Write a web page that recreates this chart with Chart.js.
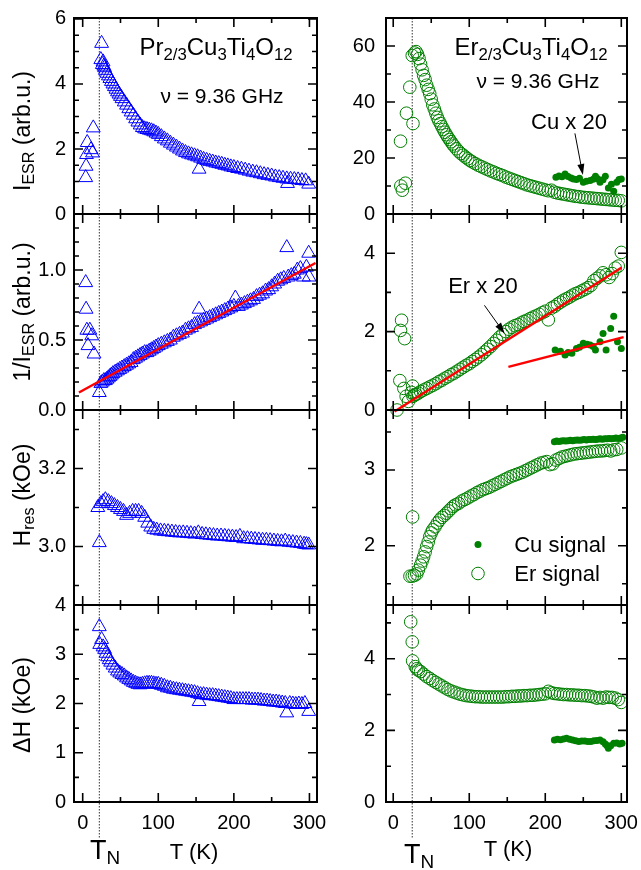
<!DOCTYPE html>
<html>
<head>
<meta charset="utf-8">
<script src="https://cdn.jsdelivr.net/npm/chart.js@4.4.1/dist/chart.umd.min.js"></script>
<style>
  body { margin: 0; background: #fff; }
  #fig { position: relative; width: 641px; height: 870px; overflow: hidden;
         font-family: "Liberation Sans", Arial, sans-serif; color: #000; }
  canvas { position: absolute; }
  .t { position: absolute; white-space: nowrap; line-height: 1; transform: translate(-50%, -50%); }
  .rot { font-size: 23px; transform: translate(-50%, -50%) rotate(-90deg); }
  .big { font-size: 24px; }
  .mid { font-size: 21px; }
  .lab { font-size: 22px; }
  sub { font-size: 70%; vertical-align: -0.3em; line-height: 0; }
</style>
</head>
<body>
<div id="fig">
  <div class="t rot" style="left:22px;top:131px">I<sub>ESR</sub> (arb.u.)</div>
  <div class="t rot" style="left:22px;top:312px">1/I<sub>ESR</sub> (arb.u.)</div>
  <div class="t rot" style="left:22px;top:495px">H<sub>res</sub> (kOe)</div>
  <div class="t rot" style="left:22px;top:705px">&Delta;H (kOe)</div>

  <div class="t big" style="left:216px;top:47px">Pr<sub>2/3</sub>Cu<sub>3</sub>Ti<sub>4</sub>O<sub>12</sub></div>
  <div class="t mid" style="left:222px;top:95px">&nu; = 9.36 GHz</div>
  <div class="t big" style="left:531px;top:47px">Er<sub>2/3</sub>Cu<sub>3</sub>Ti<sub>4</sub>O<sub>12</sub></div>
  <div class="t mid" style="left:538px;top:80px">&nu; = 9.36 GHz</div>
  <div class="t lab" style="left:569px;top:122px">Cu x 20</div>
  <div class="t lab" style="left:483px;top:286px">Er x 20</div>
  <div class="t lab" style="left:560px;top:545px">Cu signal</div>
  <div class="t lab" style="left:557px;top:574px">Er signal</div>

  <div class="t" style="left:105px;top:850px;font-size:27px">T<sub>N</sub></div>
  <div class="t lab" style="left:194px;top:852px">T (K)</div>
  <div class="t" style="left:419px;top:854px;font-size:27px">T<sub>N</sub></div>
  <div class="t lab" style="left:508px;top:849px">T (K)</div>
</div>
<script>
// shared temperature axis
const xTicks = [0, 50, 100, 150, 200, 250, 300];
const xTickLabels = ['0', '', '100', '', '200', '', '300'];
const prTN = 22;
const erTN = 25;

// Pr2/3Cu3Ti4O12 : ESR intensity
const prIesrT = [4, 4.5, 5, 6, 11, 13, 14, 24, 25, 26,
  27, 28, 29, 30, 32, 34, 36, 38, 40, 42,
  44, 46, 48, 50, 52, 55, 58, 61, 64, 67,
  70, 73, 76, 79, 82, 85, 88, 91, 94, 97,
  100, 104, 108, 112, 116, 120, 124, 128, 132, 136,
  140, 144, 148, 152, 154, 156, 160, 164, 168, 172,
  176, 180, 184, 188, 192, 196, 200, 205, 210, 215,
  220, 225, 230, 235, 240, 245, 250, 255, 260, 265,
  270, 271, 275, 280, 285, 290, 295, 299];
const prIesr = [1.12, 1.47, 1.83, 2.2, 1.98, 1.88, 2.65, 4.75, 5.25, 4.6,
  4.68, 4.55, 4.5, 4.42, 4.33, 4.25, 4.17, 4.08, 4.0, 3.92,
  3.84, 3.76, 3.69, 3.62, 3.55, 3.45, 3.35, 3.24, 3.14, 3.04,
  2.93, 2.83, 2.74, 2.66, 2.62, 2.6, 2.58, 2.56, 2.53, 2.49,
  2.45, 2.38, 2.31, 2.25, 2.18, 2.12, 2.06, 2.0, 1.94, 1.89,
  1.85, 1.82, 1.79, 1.76, 1.38, 1.72, 1.68, 1.65, 1.62, 1.6,
  1.57, 1.55, 1.53, 1.5, 1.48, 1.45, 1.43, 1.4, 1.38, 1.35,
  1.32, 1.29, 1.27, 1.24, 1.21, 1.19, 1.17, 1.14, 1.12, 1.1,
  1.08, 0.94, 1.07, 1.06, 1.05, 1.03, 1.02, 0.92];

// Pr : inverse intensity and linear fit
const prInvT = [4, 4.5, 5.5, 7, 9.5, 12, 15, 22, 24, 26,
  28, 30, 32, 34, 36, 38, 40, 43, 46, 49,
  52, 55, 58, 61, 64, 67, 70, 73, 76, 79,
  82, 85, 88, 91, 94, 97, 100, 104, 108, 112,
  116, 120, 124, 128, 132, 136, 140, 144, 148, 152,
  154, 156, 160, 164, 168, 172, 176, 180, 184, 188,
  192, 196, 200, 202, 206, 210, 214, 218, 222, 226,
  230, 234, 238, 242, 246, 250, 254, 258, 262, 266,
  270, 272, 276, 280, 284, 288, 292, 296, 299, 299.5];
const prInv = [0.91, 0.72, 0.57, 0.46, 0.57, 0.53, 0.40, 0.125, 0.19, 0.2,
  0.21, 0.21, 0.22, 0.23, 0.24, 0.25, 0.26, 0.27, 0.28, 0.29,
  0.30, 0.31, 0.32, 0.33, 0.34, 0.36, 0.37, 0.38, 0.39, 0.40,
  0.41, 0.41, 0.42, 0.43, 0.44, 0.45, 0.46, 0.47, 0.48, 0.49,
  0.50, 0.52, 0.53, 0.54, 0.55, 0.57, 0.58, 0.59, 0.61, 0.62,
  0.72, 0.63, 0.64, 0.65, 0.66, 0.67, 0.68, 0.69, 0.70, 0.71,
  0.72, 0.73, 0.74, 0.80, 0.74, 0.75, 0.76, 0.77, 0.78, 0.79,
  0.81, 0.82, 0.83, 0.85, 0.86, 0.88, 0.90, 0.92, 0.93, 0.94,
  1.16, 0.95, 0.96, 0.97, 1.0, 1.01, 0.95, 1.02, 1.12, 0.95];
const prFitT = [-5, 308];
const prFit = [0.125, 1.05];

// Pr : resonance field
const prHresT = [20, 22, 24, 27, 30, 34, 38, 42, 46, 50,
  54, 58, 62, 66, 70, 74, 78, 82, 86, 90,
  94, 98, 103, 108, 113, 118, 123, 128, 133, 138,
  143, 148, 153, 158, 163, 168, 173, 178, 183, 188,
  193, 198, 203, 208, 213, 218, 223, 228, 233, 238,
  243, 248, 253, 258, 263, 268, 273, 278, 283, 288,
  293, 296, 299];
const prHres = [3.10, 3.01, 3.11, 3.115, 3.12, 3.115, 3.11, 3.105, 3.10, 3.095,
  3.09, 3.08, 3.085, 3.09, 3.09, 3.09, 3.085, 3.075, 3.06, 3.05,
  3.044, 3.042, 3.04, 3.039, 3.038, 3.037, 3.036, 3.035, 3.035, 3.034,
  3.033, 3.032, 3.035, 3.031, 3.03, 3.029, 3.028, 3.027, 3.027, 3.026,
  3.025, 3.024, 3.023, 3.026, 3.02, 3.02, 3.019, 3.018, 3.017, 3.016,
  3.016, 3.015, 3.014, 3.013, 3.012, 3.014, 3.011, 3.01, 3.009, 3.008,
  3.006, 3.005, 3.004];

// Pr : linewidth
const prDhT = [22, 22.5, 25, 27, 29, 31, 33, 35, 37, 40,
  43, 46, 49, 52, 55, 58, 61, 64, 67, 70,
  73, 76, 79, 82, 85, 88, 91, 94, 97, 100,
  104, 108, 112, 116, 120, 124, 128, 132, 136, 140,
  144, 148, 152, 154, 156, 160, 164, 168, 172, 176,
  180, 184, 188, 192, 196, 200, 204, 208, 212, 216,
  220, 224, 228, 232, 236, 240, 244, 248, 252, 256,
  260, 264, 268, 270, 274, 278, 282, 286, 290, 294, 299];
const prDh = [3.56, 3.2, 3.3, 3.15, 3.10, 3.02, 2.95, 2.89, 2.84, 2.78,
  2.72, 2.66, 2.62, 2.59, 2.56, 2.52, 2.49, 2.46, 2.43, 2.41,
  2.39, 2.38, 2.39, 2.40, 2.41, 2.41, 2.41, 2.40, 2.39, 2.39,
  2.37, 2.35, 2.32, 2.31, 2.29, 2.28, 2.27, 2.26, 2.25, 2.24,
  2.23, 2.22, 2.2, 2.04, 2.18, 2.18, 2.17, 2.16, 2.16, 2.15,
  2.14, 2.13, 2.12, 2.11, 2.1, 2.08, 2.08, 2.08, 2.08, 2.08,
  2.08, 2.07, 2.07, 2.07, 2.06, 2.05, 2.05, 2.04, 2.03, 2.03,
  2.02, 2.01, 2.0, 1.81, 2.0, 1.99, 1.98, 1.99, 1.98, 2.0, 1.84];

// Er2/3Cu3Ti4O12 : Er signal intensity
const erIesrT = [9.6, 10, 12, 16, 17.4, 21.8, 25, 26,
  28, 30, 32, 34, 36, 38, 40, 42, 44, 46,
  48, 50, 52, 54, 56, 58, 60, 62, 64, 66,
  68, 70, 72, 74, 76, 78, 80, 83, 86, 89,
  92, 95, 98, 101, 104, 108, 112, 116, 120, 124,
  128, 132, 136, 140, 144, 148, 152, 156, 160, 164,
  168, 172, 176, 180, 184, 188, 192, 196, 200, 204,
  208, 212, 216, 220, 224, 228, 232, 236, 240, 244,
  248, 252, 256, 260, 264, 268, 272, 276, 280, 284,
  288, 292, 296, 300];
const erIesr = [26, 10, 8.5, 11, 36, 45.3, 56.6, 32.3,
  57.5, 58, 57, 55.5, 53.5, 51.5, 49.5, 48, 46, 44.5,
  43, 41, 39, 37.5, 36, 34.5, 33.3, 32.3, 31.2, 30.2,
  29.2, 28.3, 27.4, 26.6, 25.8, 25, 24.3, 23.3, 22.4, 21.6,
  21, 20.3, 19.7, 19.1, 18.6, 18, 17.4, 16.9, 16.4, 15.9,
  15.4, 15, 14.5, 14.1, 13.7, 13.2, 12.8, 12.4, 12, 11.6,
  11.2, 10.8, 10.4, 10.1, 9.8, 9.5, 9.2, 8.9, 8.6, 8.3,
  8.5, 7.8, 7.5, 7.3, 7.1, 6.9, 6.7, 6.5, 6.3, 6.2,
  6.0, 5.9, 5.8, 5.7, 5.6, 5.5, 5.4, 5.3, 5.2, 5.1,
  5.0, 4.9, 4.85, 4.7];
// Cu signal intensity (x 20)
const cuIesrT = [214, 218, 222, 226, 230, 234, 237, 241, 245, 250, 254, 259,
  263, 266, 269, 272, 276, 279, 283, 287, 290, 294, 297, 300];
const cuIesr = [13.1, 13.6, 13.3, 14.3, 13.4, 12.9, 12.5, 12.3, 12.8, 11.3, 11.7, 12,
  12.4, 13.5, 12.6, 11.3, 12.2, 13.5, 9.3, 10.6, 8.1, 11.3, 12.3, 12.5];

// Er : inverse intensity (x 20) and fits
const erInvT = [5, 8.7, 9.6, 11, 14, 15, 17, 20, 24, 25.5,
  26, 28, 30, 33, 36, 40, 44, 48, 52, 56,
  60, 64, 68, 72, 76, 80, 84, 88, 92, 96,
  100, 104, 108, 112, 116, 120, 124, 128, 132, 136,
  140, 144, 148, 152, 156, 160, 164, 168, 172, 176,
  180, 184, 188, 192, 196, 200, 204, 208, 212, 216,
  220, 224, 228, 232, 236, 240, 244, 248, 252, 256,
  260, 264, 268, 272, 276, 280, 284, 288, 292, 296, 300];
const erInv = [0.0, 0.75, 2.03, 2.29, 0.55, 1.82, 0.35, 0.22, 0.45, 0.61,
  0.35, 0.38, 0.40, 0.43, 0.47, 0.51, 0.55, 0.59, 0.63, 0.67,
  0.72, 0.76, 0.81, 0.85, 0.90, 0.94, 0.99, 1.04, 1.09, 1.14,
  1.18, 1.24, 1.29, 1.35, 1.41, 1.48, 1.55, 1.62, 1.70, 1.78,
  1.86, 1.93, 2.0, 2.06, 2.11, 2.15, 2.18, 2.22, 2.26, 2.29,
  2.33, 2.37, 2.40, 2.44, 2.48, 2.52, 2.3, 2.6, 2.64, 2.70,
  2.75, 2.80, 2.84, 2.88, 2.93, 2.97, 3.0, 3.04, 3.08, 3.12,
  3.18, 3.3, 3.36, 3.42, 3.5, 3.45, 3.38, 3.48, 3.62, 3.67, 4.02];
const cuInvT = [213, 220, 226, 230, 235, 241, 245, 250, 255, 259,
  263, 266, 272, 276, 280, 286, 290, 295, 300];
const cuInv = [1.53, 1.5, 1.40, 1.47, 1.45, 1.57, 1.6, 1.70, 1.68, 1.66,
  1.62, 1.53, 1.74, 1.95, 1.53, 2.08, 2.39, 1.74, 1.57];
const erFitT = [1.7, 300];
const erFit = [-0.04, 3.63];
const cuFitT = [151.5, 303];
const cuFit = [1.10, 1.86];

// Er : resonance field
const erHresT = [22, 25, 25.5, 28, 31, 33, 36, 38, 40, 42,
  44, 46, 48, 50, 52, 55, 58, 61, 64, 67,
  70, 73, 76, 79, 82, 86, 90, 94, 98, 102,
  106, 110, 114, 118, 122, 126, 130, 134, 138, 142,
  146, 150, 154, 158, 162, 166, 170, 174, 178, 182,
  186, 190, 194, 198, 202, 206, 210, 214, 218, 222,
  226, 230, 234, 238, 242, 246, 250, 254, 258, 262,
  266, 270, 274, 278, 282, 286, 290, 294, 300];
const erHres = [1.60, 1.60, 2.38, 1.61, 1.63, 1.68, 1.745, 1.80, 1.855, 1.92,
  1.99, 2.05, 2.12, 2.17, 2.21, 2.25, 2.30, 2.34, 2.375, 2.40,
  2.43, 2.46, 2.49, 2.52, 2.54, 2.56, 2.59, 2.61, 2.63, 2.655,
  2.675, 2.70, 2.72, 2.74, 2.755, 2.77, 2.79, 2.81, 2.83, 2.85,
  2.87, 2.89, 2.91, 2.925, 2.94, 2.955, 2.97, 2.99, 3.01, 3.03,
  3.05, 3.07, 3.09, 3.10, 3.11, 3.07, 3.08, 3.13, 3.15, 3.17,
  3.18, 3.19, 3.20, 3.21, 3.215, 3.22, 3.225, 3.23, 3.235, 3.24,
  3.245, 3.25, 3.25, 3.255, 3.26, 3.25, 3.265, 3.27, 3.29];
const cuHresT = [212, 215, 218, 221, 224, 227, 230, 233, 236, 239, 242, 245, 248, 251, 254, 257,
  260, 263, 266, 269, 272, 275, 278, 281, 284, 287, 290, 293, 296, 299, 302];
const cuHres = [3.37, 3.38, 3.375, 3.38, 3.385, 3.38, 3.385, 3.39, 3.385, 3.39, 3.395, 3.39, 3.395, 3.4, 3.395, 3.4,
  3.4, 3.405, 3.4, 3.405, 3.41, 3.405, 3.41, 3.41, 3.415, 3.41, 3.415, 3.42, 3.415, 3.42, 3.43];

// Er : linewidth
const erDhT = [23, 25, 25.5, 29, 31, 33, 36, 40, 44, 48,
  52, 56, 60, 64, 68, 72, 76, 80, 84, 88,
  92, 96, 100, 104, 108, 112, 116, 120, 124, 128,
  132, 136, 140, 144, 148, 152, 156, 160, 164, 168,
  172, 176, 180, 184, 188, 192, 196, 200, 204, 208,
  212, 216, 220, 224, 228, 232, 236, 240, 244, 248,
  252, 256, 260, 264, 268, 272, 276, 280, 284, 288,
  292, 296, 300];
const erDh = [5.03, 4.47, 3.94, 3.78, 3.72, 3.68, 3.64, 3.57, 3.50, 3.45,
  3.39, 3.34, 3.29, 3.24, 3.19, 3.14, 3.10, 3.07, 3.04, 3.01,
  2.99, 2.97, 2.96, 2.95, 2.94, 2.94, 2.93, 2.93, 2.93, 2.93,
  2.93, 2.93, 2.93, 2.93, 2.94, 2.94, 2.95, 2.95, 2.96, 2.96,
  2.97, 2.97, 2.98, 2.98, 2.99, 3.0, 3.01, 3.02, 3.09, 3.05,
  3.03, 3.02, 3.01, 3.0, 3.0, 2.99, 2.99, 2.98, 2.98, 2.97,
  2.97, 2.96, 2.95, 2.93, 2.90, 2.92, 2.90, 2.93, 2.92, 2.92,
  2.90, 2.86, 2.78];
const cuDhT = [212, 216, 220, 224, 228, 232, 236, 240, 244, 248, 252, 256, 260,
  264, 268, 272, 276, 279, 281, 283, 286, 290, 294, 298, 301];
const cuDh = [1.73, 1.75, 1.74, 1.76, 1.78, 1.75, 1.73, 1.71, 1.69, 1.70, 1.70, 1.69, 1.69,
  1.71, 1.72, 1.73, 1.68, 1.62, 1.58, 1.50, 1.57, 1.64, 1.65, 1.62, 1.64];

// y ticks and labels of each panel
const prIesrTicks = [0, 0.5, 1, 1.5, 2, 2.5, 3, 3.5, 4, 4.5, 5, 5.5, 6];
const prIesrLabels = ['0', '', '', '', '2', '', '', '', '4', '', '', '', '6'];
const prInvTicks = [0, 0.1, 0.2, 0.3, 0.4, 0.5, 0.6, 0.7, 0.8, 0.9, 1.0, 1.1, 1.2, 1.3, 1.4];
const prInvLabels = ['0.0', '', '', '', '', '0.5', '', '', '', '', '1.0', '', '', '', ''];
const prHresTicks = [2.9, 3.0, 3.1, 3.2, 3.3];
const prHresLabels = ['', '3.0', '', '3.2', ''];
const prDhTicks = [0, 0.5, 1, 1.5, 2, 2.5, 3, 3.5, 4];
const prDhLabels = ['0', '', '1', '', '2', '', '3', '', '4'];
const erIesrTicks = [0, 10, 20, 30, 40, 50, 60, 70];
const erIesrLabels = ['0', '', '20', '', '40', '', '60', ''];
const erInvTicks = [0, 1, 2, 3, 4, 5];
const erInvLabels = ['0', '', '2', '', '4', ''];
const erHresTicks = [1.5, 2, 2.5, 3, 3.5];
const erHresLabels = ['', '2', '', '3', ''];
const erDhTicks = [0, 1, 2, 3, 4, 5];
const erDhLabels = ['0', '', '2', '', '4', ''];

const BLUE = '#0000ff', GREEN = '#008000', RED = '#ff0000';
const FONT = { family: '"Liberation Sans", Arial, sans-serif', size: 20 };

function xy(xs, ys) {
  return xs.map((x, i) => ({ x, y: ys[i] }));
}
function tri(xs, ys) {
  return { data: xy(xs, ys), pointStyle: 'triangle', pointRadius: 8, borderWidth: 1,
    borderColor: BLUE, backgroundColor: 'rgba(0,0,0,0)', clip: false };
}
function ring(xs, ys) {
  return { data: xy(xs, ys), pointStyle: 'circle', pointRadius: 6.3, borderWidth: 1,
    borderColor: GREEN, backgroundColor: 'rgba(0,0,0,0)', clip: false };
}
function dot(xs, ys) {
  return { data: xy(xs, ys), pointStyle: 'circle', pointRadius: 3.5, borderWidth: 0,
    borderColor: GREEN, backgroundColor: GREEN, clip: false };
}
function fit(xs, ys) {
  return { data: xy(xs, ys), showLine: true, pointRadius: 0, borderWidth: 2.5,
    borderColor: RED, clip: false };
}

// layout of the two columns and four rows (frame edges in px)
const cols = [
  { left: 74, right: 317, canvasLeft: 0, width: 330, xMin: -11.5, xMax: 310, tickPad: 8 },
  { left: 386, right: 627, canvasLeft: 320, width: 321, xMin: -9.5, xMax: 307.5, tickPad: 11 }
];
const rows = [18, 214, 410, 605, 802];

const panels = [
  { col: 0, row: 0, yMin: 0, yMax: 6.03, ticks: prIesrTicks, labels: prIesrLabels, tn: prTN,
    sets: [tri(prIesrT, prIesr)] },
  { col: 0, row: 1, yMin: 0, yMax: 1.4, ticks: prInvTicks, labels: prInvLabels, tn: prTN,
    sets: [fit(prFitT, prFit), tri(prInvT, prInv)] },
  { col: 0, row: 2, yMin: 2.85, yMax: 3.35, ticks: prHresTicks, labels: prHresLabels, tn: prTN,
    sets: [tri(prHresT, prHres)] },
  { col: 0, row: 3, yMin: 0, yMax: 4, ticks: prDhTicks, labels: prDhLabels, tn: prTN,
    sets: [tri(prDhT, prDh)] },
  { col: 1, row: 0, yMin: 0, yMax: 70, ticks: erIesrTicks, labels: erIesrLabels, tn: erTN,
    sets: [dot(cuIesrT, cuIesr), ring(erIesrT, erIesr)],
    arrows: [{ from: [239, 28.8], to: [249.5, 13.9] }] },
  { col: 1, row: 1, yMin: 0, yMax: 5, ticks: erInvTicks, labels: erInvLabels, tn: erTN,
    sets: [fit(erFitT, erFit), fit(cuFitT, cuFit), dot(cuInvT, cuInv), ring(erInvT, erInv)],
    arrows: [{ from: [120, 2.67], to: [146.5, 1.95] }] },
  { col: 1, row: 2, yMin: 1.22, yMax: 3.79, ticks: erHresTicks, labels: erHresLabels, tn: erTN,
    sets: [dot(cuHresT, cuHres), ring(erHresT, erHres)], legend: true },
  { col: 1, row: 3, yMin: 0, yMax: 5.5, ticks: erDhTicks, labels: erDhLabels, tn: erTN,
    sets: [dot(cuDhT, cuDh), ring(erDhT, erDh)] }
];

const frameDeco = {
  id: 'frameDeco',
  beforeDatasetsDraw(chart, args, o) {
    const { ctx, chartArea: a } = chart;
    const px = chart.scales.x.getPixelForValue(o.tn);
    ctx.save();
    ctx.strokeStyle = '#333';
    ctx.lineWidth = 1;
    ctx.setLineDash([1.5, 1.5]);
    ctx.beginPath();
    ctx.moveTo(px, a.top);
    ctx.lineTo(px, a.bottom + o.tail);
    ctx.stroke();
    ctx.restore();
  },
  afterDatasetsDraw(chart, args, o) {
    const { ctx, chartArea: a } = chart;
    const { x, y } = chart.scales;
    ctx.save();
    ctx.strokeStyle = '#000';
    ctx.fillStyle = '#000';
    ctx.lineWidth = 1.6;
    ctx.beginPath();
    x.ticks.forEach((t, i) => {
      const p = x.getPixelForValue(t.value);
      const len = xTickLabels[i] ? 9 : 5;
      ctx.moveTo(p, a.bottom); ctx.lineTo(p, a.bottom - len);
      ctx.moveTo(p, a.top); ctx.lineTo(p, a.top + len);
    });
    y.ticks.forEach((t, i) => {
      const p = y.getPixelForValue(t.value);
      const len = o.labels[i] ? 9 : 5;
      ctx.moveTo(a.left, p); ctx.lineTo(a.left + len, p);
      ctx.moveTo(a.right, p); ctx.lineTo(a.right - len, p);
    });
    ctx.stroke();
    ctx.lineWidth = 2;
    ctx.strokeRect(a.left, a.top, a.right - a.left, a.bottom - a.top);

    (o.arrows || []).forEach(ar => {
      const x0 = x.getPixelForValue(ar.from[0]), y0 = y.getPixelForValue(ar.from[1]);
      const x1 = x.getPixelForValue(ar.to[0]), y1 = y.getPixelForValue(ar.to[1]);
      const ang = Math.atan2(y1 - y0, x1 - x0);
      const c = Math.cos(ang), s = Math.sin(ang);
      ctx.lineWidth = 1;
      ctx.beginPath();
      ctx.moveTo(x0, y0);
      ctx.lineTo(x1 - 9 * c, y1 - 9 * s);
      ctx.stroke();
      ctx.beginPath();
      ctx.moveTo(x1, y1);
      ctx.lineTo(x1 - 11 * c - 3.5 * s, y1 - 11 * s + 3.5 * c);
      ctx.lineTo(x1 - 11 * c + 3.5 * s, y1 - 11 * s - 3.5 * c);
      ctx.closePath();
      ctx.fill();
    });

    if (o.legend) {
      const lx = a.left + 92;
      ctx.fillStyle = GREEN;
      ctx.beginPath();
      ctx.arc(lx, a.top + 134.5, 3.5, 0, Math.PI * 2);
      ctx.fill();
      ctx.strokeStyle = GREEN;
      ctx.lineWidth = 1;
      ctx.beginPath();
      ctx.arc(lx, a.top + 163.5, 6.3, 0, Math.PI * 2);
      ctx.stroke();
    }
    ctx.restore();
  }
};

const fig = document.getElementById('fig');
const firstText = fig.firstElementChild;

panels.forEach(p => {
  const c = cols[p.col];
  const top = rows[p.row], bottom = rows[p.row + 1];
  const last = p.row === 3;
  const padT = 14, padB = last ? 0 : 14, xH = last ? 68 : 0;
  const cv = document.createElement('canvas');
  cv.width = c.width;
  cv.height = padT + (bottom - top) + padB + xH;
  cv.style.left = c.canvasLeft + 'px';
  cv.style.top = (top - padT) + 'px';
  fig.insertBefore(cv, firstText);

  new Chart(cv, {
    type: 'scatter',
    data: { datasets: p.sets },
    options: {
      responsive: false,
      animation: false,
      devicePixelRatio: 1,
      layout: { padding: { top: padT, bottom: padB, left: 0, right: c.canvasLeft + c.width - c.right } },
      plugins: {
        legend: { display: false },
        tooltip: { enabled: false },
        frameDeco: { tn: p.tn, tail: last ? 36 : 0, labels: p.labels, arrows: p.arrows, legend: p.legend }
      },
      scales: {
        x: {
          type: 'linear', min: c.xMin, max: c.xMax,
          afterBuildTicks: s => { s.ticks = xTicks.map(v => ({ value: v })); },
          ticks: { display: last, autoSkip: false, maxRotation: 0, padding: 9, color: '#000', font: FONT,
            callback: (v, i) => xTickLabels[i] },
          grid: { display: false, drawTicks: false },
          border: { display: false },
          afterFit: s => { s.height = xH; s.paddingLeft = 0; s.paddingRight = 0; }
        },
        y: {
          type: 'linear', min: p.yMin, max: p.yMax,
          afterBuildTicks: s => { s.ticks = p.ticks.map(v => ({ value: v })); },
          ticks: { autoSkip: false, padding: c.tickPad, color: '#000', font: FONT,
            callback: (v, i) => p.labels[i] },
          grid: { display: false, drawTicks: false },
          border: { display: false },
          afterFit: s => { s.width = c.left - c.canvasLeft; s.paddingTop = 0; s.paddingBottom = 0; }
        }
      }
    },
    plugins: [frameDeco]
  });
});
</script>
</body>
</html>
